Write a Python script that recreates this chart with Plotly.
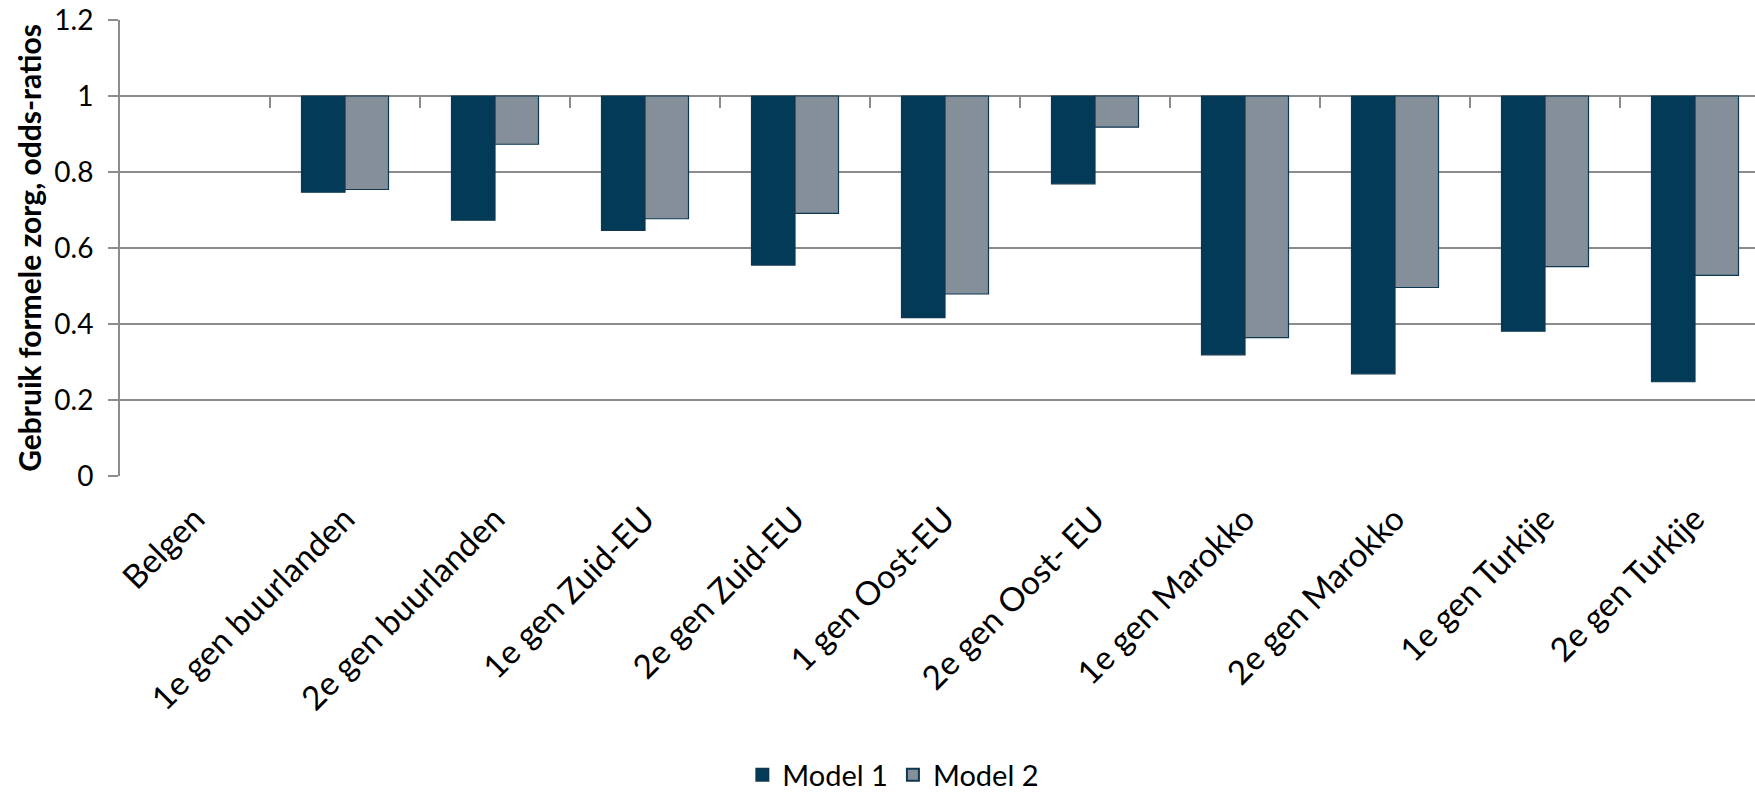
import plotly.graph_objects as go

# Odds ratios for use of formal care, relative to Belgians (reference = 1)
categories = [
    "Belgen", "1e gen buurlanden", "2e gen buurlanden", "1e gen Zuid-EU",
    "2e gen Zuid-EU", "1 gen Oost-EU", "2e gen Oost- EU", "1e gen Marokko",
    "2e gen Marokko", "1e gen Turkije", "2e gen Turkije",
]
model1 = [1.0, 0.747, 0.673, 0.646, 0.555, 0.417, 0.769, 0.319, 0.269, 0.381, 0.248]
model2 = [1.0, 0.754, 0.873, 0.677, 0.691, 0.479, 0.918, 0.364, 0.496, 0.551, 0.528]
y_ticks = [0, 0.2, 0.4, 0.6, 0.8, 1, 1.2]
reference = 1.0

FONT = "Lato"
GRID = "#8c8c8c"
EDGE = "#0e3850"
X_RANGE = [-0.5, 10.4]

fig = go.Figure()
for name, vals, color in [("Model 1", model1, "#023a58"), ("Model 2", model2, "#848f9a")]:
    fig.add_trace(go.Bar(
        name=name,
        x=categories,
        y=[v - reference for v in vals],
        base=[reference] * len(vals),
        marker=dict(color=color,
                    line=dict(color=EDGE, width=[0 if v == reference else 1.2 for v in vals])),
        customdata=vals,
        hovertemplate="%{x}<br>%{customdata}<extra>" + name + "</extra>",
    ))

# empty helper trace so the tick axis crossing at the reference value is drawn
fig.add_trace(go.Scatter(x=categories, y=[None] * len(categories), xaxis="x2",
                         mode="lines", showlegend=False, hoverinfo="skip"))

ymax = max(y_ticks)
fig.update_layout(
    width=1755, height=792,
    margin=dict(l=120, r=0, t=20, b=316, autoexpand=False),
    paper_bgcolor="white", plot_bgcolor="white",
    barmode="group", bargap=0.42, bargroupgap=0,
    font=dict(family=FONT, color="black"),
    showlegend=True,
    legend=dict(orientation="h", x=0.473, xanchor="center",
                yref="container", y=17 / 792, yanchor="middle",
                font=dict(size=29, family=FONT), itemsizing="constant"),
    xaxis=dict(
        type="category", range=X_RANGE, automargin=False,
        showgrid=False, showline=False, zeroline=False, ticks="",
        tickangle=-45, tickfont=dict(size=33, family=FONT),
        ticklabelstandoff=16,
    ),
    # category axis crosses the value axis at the reference value 1
    xaxis2=dict(
        type="category", overlaying="x", anchor="free", position=reference / ymax,
        range=X_RANGE, showgrid=False, showline=False, zeroline=False, automargin=False,
        showticklabels=False, ticks="outside", ticklen=11, tickwidth=2, tickcolor=GRID,
        tickmode="array", tickvals=[i + 0.5 for i in range(len(categories) - 1)],
    ),
    yaxis=dict(
        range=[0, ymax], tickvals=y_ticks, ticktext=[f"{t:g}" for t in y_ticks],
        showgrid=True, gridcolor=GRID, gridwidth=2, automargin=False,
        showline=True, linecolor=GRID, linewidth=2,
        ticks="outside", ticklen=10, tickwidth=2, tickcolor=GRID,
        zeroline=False, tickfont=dict(size=28, family=FONT), ticklabelstandoff=9,
        title=dict(text="<b>Gebruik formele zorg, odds-ratios</b>",
                   font=dict(size=30, family=FONT), standoff=4),
    ),
)

fig.write_html("out.html")
